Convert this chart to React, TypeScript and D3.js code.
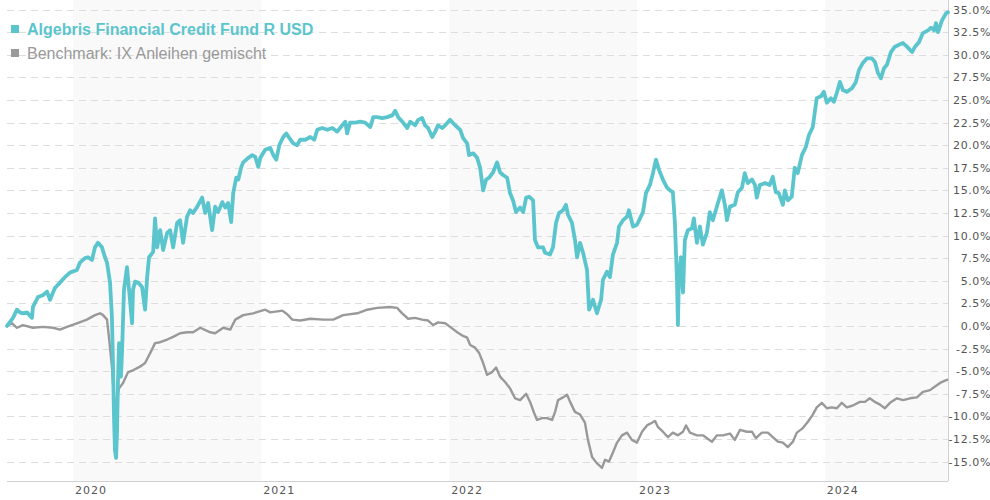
import { useMemo } from "react";
import * as d3 from "d3";

// time as decimal years, values as cumulative performance in %
const fundYears = [
  2019.649, 2019.681, 2019.702, 2019.718, 2019.734, 2019.755, 2019.782, 2019.787, 2019.814, 2019.84,
  2019.862, 2019.878, 2019.904, 2019.931, 2019.957, 2019.984, 2020.021, 2020.037, 2020.064, 2020.08,
  2020.101, 2020.117, 2020.133, 2020.154, 2020.17, 2020.181, 2020.197, 2020.207, 2020.213, 2020.218,
  2020.223, 2020.229, 2020.234, 2020.239, 2020.245, 2020.255, 2020.261, 2020.271, 2020.287, 2020.298,
  2020.314, 2020.319, 2020.33, 2020.346, 2020.367, 2020.383, 2020.394, 2020.404, 2020.426, 2020.436,
  2020.447, 2020.463, 2020.479, 2020.5, 2020.516, 2020.532, 2020.553, 2020.569, 2020.585, 2020.606,
  2020.622, 2020.638, 2020.66, 2020.686, 2020.702, 2020.718, 2020.739, 2020.755, 2020.771, 2020.793,
  2020.809, 2020.824, 2020.84, 2020.851, 2020.867, 2020.878, 2020.894, 2020.904, 2020.931, 2020.952,
  2020.968, 2020.984, 2020.995, 2021.021, 2021.048, 2021.064, 2021.08, 2021.096, 2021.117, 2021.133,
  2021.149, 2021.17, 2021.191, 2021.207, 2021.234, 2021.261, 2021.282, 2021.298, 2021.324, 2021.351,
  2021.378, 2021.404, 2021.431, 2021.447, 2021.457, 2021.473, 2021.5, 2021.527, 2021.553, 2021.58,
  2021.596, 2021.617, 2021.644, 2021.67, 2021.697, 2021.713, 2021.729, 2021.755, 2021.777, 2021.793,
  2021.819, 2021.835, 2021.856, 2021.872, 2021.888, 2021.91, 2021.926, 2021.941, 2021.963, 2021.979,
  2022.005, 2022.032, 2022.059, 2022.074, 2022.096, 2022.106, 2022.128, 2022.149, 2022.165, 2022.181,
  2022.197, 2022.213, 2022.234, 2022.255, 2022.271, 2022.287, 2022.309, 2022.324, 2022.34, 2022.356,
  2022.378, 2022.394, 2022.41, 2022.426, 2022.447, 2022.457, 2022.473, 2022.5, 2022.511, 2022.537,
  2022.553, 2022.569, 2022.585, 2022.606, 2022.622, 2022.633, 2022.654, 2022.67, 2022.681, 2022.697,
  2022.713, 2022.734, 2022.745, 2022.766, 2022.787, 2022.809, 2022.819, 2022.84, 2022.856, 2022.872,
  2022.894, 2022.904, 2022.926, 2022.947, 2022.957, 2022.979, 2023.0, 2023.016, 2023.032, 2023.048,
  2023.069, 2023.085, 2023.101, 2023.117, 2023.138, 2023.16, 2023.176, 2023.191, 2023.202, 2023.213,
  2023.218, 2023.223, 2023.234, 2023.245, 2023.255, 2023.271, 2023.293, 2023.303, 2023.319, 2023.335,
  2023.351, 2023.372, 2023.388, 2023.404, 2023.431, 2023.452, 2023.468, 2023.479, 2023.495, 2023.521,
  2023.537, 2023.559, 2023.574, 2023.59, 2023.612, 2023.628, 2023.638, 2023.654, 2023.681, 2023.707,
  2023.723, 2023.739, 2023.755, 2023.777, 2023.787, 2023.803, 2023.824, 2023.84, 2023.856, 2023.878,
  2023.899, 2023.915, 2023.936, 2023.947, 2023.957, 2023.979, 2023.995, 2024.011, 2024.032, 2024.048,
  2024.064, 2024.08, 2024.096, 2024.117, 2024.144, 2024.165, 2024.181, 2024.202, 2024.223, 2024.25,
  2024.266, 2024.282, 2024.298, 2024.314, 2024.33, 2024.351, 2024.372, 2024.394, 2024.415, 2024.436,
  2024.463, 2024.479, 2024.5, 2024.521, 2024.548, 2024.564, 2024.58, 2024.59, 2024.601, 2024.622,
  2024.644, 2024.654,
];
const fundValues = [
  0.0, 0.9, 1.8, 1.5, 1.4, 1.5, 0.9, 2.1, 3.2, 3.4,
  3.8, 2.9, 4.2, 4.8, 5.4, 5.9, 6.2, 7.0, 7.5, 7.6,
  7.3, 8.7, 9.2, 8.7, 7.6, 7.0, 4.8, 1.0, -4.5, -10.1,
  -13.7, -14.6, -11.8, -6.3, -1.9, -5.6, -2.7, 4.0, 6.5, 4.0,
  0.3, 4.0, 4.9, 4.8, 4.3, 1.8, 5.4, 7.6, 8.2, 11.9,
  8.7, 10.6, 8.4, 10.3, 10.6, 8.7, 11.4, 11.7, 9.2, 12.1,
  12.8, 12.5, 13.2, 14.2, 12.5, 13.6, 10.6, 13.2, 12.6, 13.7,
  13.1, 13.6, 11.5, 14.7, 16.4, 16.2, 17.6, 18.1, 18.6, 18.9,
  18.7, 17.6, 18.6, 19.5, 19.7, 18.9, 18.4, 20.0, 20.9, 21.3,
  20.8, 20.2, 20.0, 20.6, 20.6, 20.9, 20.6, 21.7, 21.9, 21.7,
  21.9, 21.5, 22.2, 22.6, 21.3, 22.5, 22.5, 22.6, 22.5, 22.0,
  23.1, 23.1, 23.0, 23.1, 23.3, 23.8, 23.1, 22.5, 21.9, 22.6,
  22.2, 22.8, 23.0, 22.2, 21.9, 20.9, 21.5, 22.2, 21.9, 22.2,
  22.8, 22.2, 21.7, 20.8, 20.2, 18.9, 19.1, 18.6, 17.5, 15.0,
  16.2, 16.4, 17.0, 18.1, 17.0, 16.7, 16.4, 14.7, 13.9, 12.6,
  13.1, 12.6, 14.2, 14.3, 13.9, 9.5, 8.7, 8.7, 8.1, 7.9,
  8.7, 11.4, 12.5, 12.8, 13.4, 12.3, 11.4, 9.5, 7.6, 9.2,
  8.1, 6.2, 1.8, 2.9, 1.4, 2.9, 5.1, 6.0, 5.4, 7.9,
  9.2, 11.0, 11.7, 12.1, 12.8, 11.0, 11.2, 11.9, 12.6, 14.7,
  15.6, 16.9, 18.4, 17.3, 16.2, 15.3, 15.0, 14.8, 11.4, 5.1,
  0.1, 5.1, 7.6, 3.7, 9.5, 10.6, 10.8, 11.9, 9.2, 11.0,
  9.0, 10.3, 12.6, 11.7, 13.6, 15.0, 13.4, 11.7, 13.2, 13.4,
  14.8, 15.3, 16.9, 15.8, 16.2, 15.6, 14.2, 15.6, 15.8, 15.6,
  16.5, 14.8, 14.7, 13.4, 15.0, 13.9, 14.3, 17.5, 16.9, 18.9,
  19.8, 21.1, 22.0, 23.7, 25.2, 25.4, 25.9, 24.7, 25.2, 24.8,
  25.8, 27.0, 26.1, 25.9, 26.3, 27.0, 28.3, 29.1, 29.6, 29.6,
  29.2, 28.0, 27.4, 28.5, 28.9, 30.3, 30.9, 31.1, 31.3, 30.9,
  30.3, 30.9, 31.4, 32.4, 32.7, 33.0, 32.7, 33.5, 32.5, 33.8,
  34.6, 34.7,
];

const benchYears = [
  2019.649, 2019.676, 2019.702, 2019.734, 2019.787, 2019.84, 2019.894, 2019.931, 2019.968, 2020.021,
  2020.074, 2020.117, 2020.144, 2020.16, 2020.181, 2020.191, 2020.207, 2020.218, 2020.223, 2020.234,
  2020.245, 2020.266, 2020.293, 2020.319, 2020.356, 2020.383, 2020.41, 2020.436, 2020.463, 2020.5,
  2020.532, 2020.569, 2020.606, 2020.638, 2020.676, 2020.729, 2020.755, 2020.798, 2020.835, 2020.862,
  2020.904, 2020.957, 2021.021, 2021.048, 2021.112, 2021.138, 2021.165, 2021.207, 2021.261, 2021.33,
  2021.383, 2021.436, 2021.511, 2021.564, 2021.617, 2021.686, 2021.723, 2021.75, 2021.782, 2021.819,
  2021.856, 2021.888, 2021.915, 2021.941, 2021.979, 2022.005, 2022.043, 2022.074, 2022.096, 2022.112,
  2022.138, 2022.16, 2022.181, 2022.202, 2022.229, 2022.25, 2022.271, 2022.298, 2022.324, 2022.351,
  2022.378, 2022.41, 2022.431, 2022.452, 2022.468, 2022.495, 2022.521, 2022.548, 2022.564, 2022.58,
  2022.606, 2022.628, 2022.644, 2022.67, 2022.697, 2022.723, 2022.739, 2022.761, 2022.787, 2022.814,
  2022.83, 2022.851, 2022.872, 2022.894, 2022.92, 2022.947, 2022.973, 2023.0, 2023.027, 2023.053,
  2023.08, 2023.096, 2023.112, 2023.138, 2023.165, 2023.191, 2023.218, 2023.245, 2023.261, 2023.282,
  2023.319, 2023.351, 2023.399, 2023.426, 2023.457, 2023.495, 2023.521, 2023.548, 2023.585, 2023.612,
  2023.633, 2023.665, 2023.697, 2023.723, 2023.75, 2023.777, 2023.803, 2023.83, 2023.851, 2023.883,
  2023.91, 2023.936, 2023.957, 2023.984, 2024.011, 2024.037, 2024.064, 2024.09, 2024.117, 2024.149,
  2024.186, 2024.213, 2024.239, 2024.266, 2024.293, 2024.319, 2024.346, 2024.383, 2024.415, 2024.452,
  2024.489, 2024.521, 2024.559, 2024.585, 2024.612, 2024.644, 2024.654,
];
const benchValues = [
  0.0, 0.3, -0.2, 0.1, -0.2, -0.1, -0.2, -0.4, -0.1, 0.3,
  0.7, 1.2, 1.4, 1.2, 0.7, -1.2, -4.5, -7.9, -9.0, -7.9,
  -6.9, -6.3, -5.1, -4.9, -4.5, -4.1, -3.0, -1.9, -1.8, -1.5,
  -1.2, -0.8, -0.7, -0.7, -0.2, -0.7, -0.8, -0.2, -0.4, 0.7,
  1.2, 1.4, 1.8, 1.5, 1.7, 1.3, 0.7, 0.6, 0.8, 0.7,
  0.7, 1.2, 1.4, 1.8, 2.0, 2.1, 2.0, 1.4, 0.8, 0.9,
  0.7, 0.6, 0.1, 0.4, 0.3, -0.1, -0.7, -1.1, -1.3, -2.1,
  -2.4, -3.0, -4.1, -5.4, -5.1, -4.6, -5.6, -6.2, -6.9, -8.0,
  -8.2, -7.5, -8.4, -9.6, -10.4, -10.2, -10.2, -10.4, -9.5, -8.2,
  -7.9, -7.6, -8.4, -9.5, -9.8, -10.7, -12.6, -14.5, -15.2, -15.7,
  -14.8, -15.0, -14.0, -12.9, -12.1, -11.8, -12.6, -12.9, -11.7, -11.0,
  -10.7, -10.5, -11.2, -11.7, -12.3, -11.8, -12.1, -11.7, -11.0, -11.8,
  -12.1, -12.1, -12.8, -12.1, -12.1, -11.9, -12.6, -11.5, -11.7, -11.7,
  -12.4, -11.8, -11.8, -12.3, -12.8, -12.9, -13.4, -12.8, -11.8, -11.3,
  -10.6, -9.8, -9.0, -8.5, -9.1, -9.0, -9.1, -8.5, -9.0, -8.8,
  -8.4, -8.4, -8.0, -8.4, -8.7, -9.1, -8.5, -8.0, -8.2, -8.0,
  -7.9, -7.3, -7.1, -6.7, -6.3, -6.0, -5.9,
];

const yTicks = [-15, -12.5, -10, -7.5, -5, -2.5, 0, 2.5, 5, 7.5, 10, 12.5, 15, 17.5, 20, 22.5, 25, 27.5, 30, 32.5, 35];
const seriesNames = ["Algebris Financial Credit Fund R USD", "Benchmark: IX Anleihen gemischt"];
const seriesColors = ["#5bc5cd", "#999999"];

const W = 990;
const H = 500;
const left = 7;
const right = 948;
const top = 0;
const bottom = 481;

const toDate = (t: number) => {
  const y = Math.floor(t);
  const a = Date.UTC(y, 0, 1);
  const b = Date.UTC(y + 1, 0, 1);
  return new Date(a + (t - y) * (b - a));
};

export default function App() {
  const x = useMemo(
    () => d3.scaleUtc().domain([toDate(fundYears[0]), toDate(fundYears[fundYears.length - 1])]).range([left, right]),
    []
  );
  const y = d3.scaleLinear().domain([-17.15, 36.06]).range([bottom, top]);

  const yearStarts = d3.utcYear.every(1)!.range(d3.utcYear.ceil(x.domain()[0]), x.domain()[1]);

  const line = d3
    .line<[number, number]>()
    .x((d) => x(toDate(d[0])))
    .y((d) => y(d[1]));

  const fundPath = line(fundYears.map((t, i) => [t, fundValues[i]]))!;
  const benchPath = line(benchYears.map((t, i) => [t, benchValues[i]]))!;

  return (
    <svg width={W} height={H} style={{ position: "absolute", left: 0, top: 0, background: "#fff" }}>
      {/* alternating year bands */}
      {yearStarts.map((d, i) =>
        i % 2 === 0 ? (
          <rect
            key={"band" + i}
            x={x(d)}
            y={top}
            width={Math.min(x(d3.utcYear.offset(d, 1)), right) - x(d)}
            height={bottom - top}
            fill="#f9f9f9"
          />
        ) : null
      )}
      {yTicks.map((t) => (
        <line
          key={"g" + t}
          x1={left}
          x2={right}
          y1={Math.round(y(t)) + 0.5}
          y2={Math.round(y(t)) + 0.5}
          stroke="#dddddd"
          strokeDasharray="7,5"
        />
      ))}
      <line x1={left} x2={right} y1={bottom + 0.5} y2={bottom + 0.5} stroke="#d0d0d0" />
      <line x1={right + 0.5} x2={right + 0.5} y1={top} y2={bottom} stroke="#d0d0d0" />
      <path d={benchPath} fill="none" stroke={seriesColors[1]} strokeWidth={2.4} strokeLinejoin="round" />
      <path d={fundPath} fill="none" stroke={seriesColors[0]} strokeWidth={3.8} strokeLinejoin="round" strokeLinecap="round" />
      {yTicks.map((t) => (
        <text
          key={"yl" + t}
          x={991}
          y={y(t) + 4}
          textAnchor="end"
          fontFamily="DejaVu Sans, Verdana, sans-serif"
          fontSize={11}
          letterSpacing={0.6}
          fill="#555"
        >
          {t.toFixed(1) + "%"}
        </text>
      ))}
      {yearStarts.map((d) => (
        <text
          key={"xl" + d.getUTCFullYear()}
          x={x(d) + 2}
          y={494}
          fontFamily="DejaVu Sans, Verdana, sans-serif"
          fontSize={11}
          letterSpacing={1}
          fill="#555"
        >
          {d.getUTCFullYear()}
        </text>
      ))}
      {seriesNames.map((name, i) => (
        <g key={name} transform={`translate(11, ${25 + i * 24})`}>
          <rect x={0} y={0} width={8} height={8} fill={seriesColors[i]} />
          <text
            x={16}
            y={9.5}
            fontFamily="Liberation Sans, Arial, sans-serif"
            fontSize={16}
            fontWeight={i === 0 ? "bold" : "normal"}
            fill={seriesColors[i]}
          >
            {name}
          </text>
        </g>
      ))}
    </svg>
  );
}
